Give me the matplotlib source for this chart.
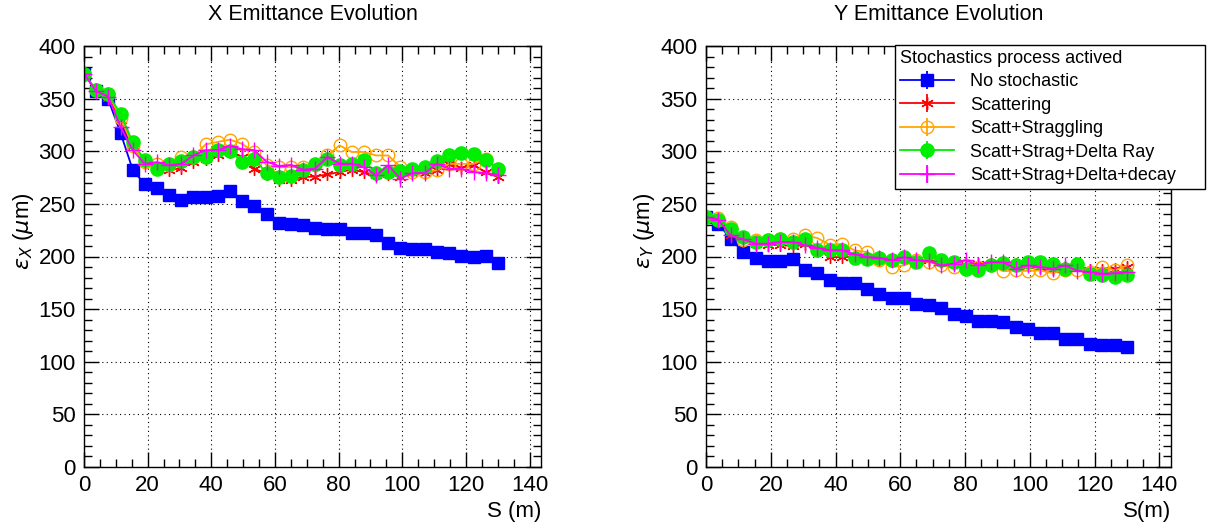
import numpy as np
import matplotlib
matplotlib.use("Agg")
import matplotlib.pyplot as plt
from matplotlib.ticker import MultipleLocator

plt.rcParams['font.family'] = ['Liberation Sans', 'DejaVu Sans']
plt.rcParams['mathtext.fontset'] = 'dejavusans'

# distance along the channel (m)
s_pos = [0, 3.8, 7.6, 11.5, 15.3, 19.1, 22.9, 26.8, 30.6, 34.4, 38.2, 42.1, 45.9, 49.7,
         53.5, 57.4, 61.2, 65.0, 68.8, 72.6, 76.5, 80.3, 84.1, 87.9, 91.8, 95.6, 99.4,
         103.2, 107.1, 110.9, 114.7, 118.5, 122.4, 126.2, 130.0]

# X emittance (um)
x_nostoch = [373.8, 357.2, 349.3, 317.3, 282.5, 268.5, 265.4, 258.4, 254.0, 256.2, 256.8, 257.1,
             261.9, 252.4, 247.6, 240.0, 231.7, 230.8, 230.2, 227.4, 226.4, 226.4, 222.2, 222.0,
             220.0, 212.7, 208.4, 207.4, 207.4, 204.2, 203.2, 200.4, 199.8, 200.4, 194.1]
x_scatt = [373.8, 357.0, 351.0, 330.0, 305.0, 290.0, 284.0, 282.0, 284.0, 290.0, 293.0, 296.0,
           299.0, 295.0, 283.4, 278.7, 273.0, 273.0, 275.5, 276.0, 278.0, 280.2, 282.5, 280.2,
           277.0, 278.7, 275.5, 279.3, 279.3, 281.8, 288.2, 284.4, 286.6, 280.2, 275.5]
x_strag = [373.8, 358.0, 354.0, 332.0, 305.0, 290.0, 288.0, 286.6, 294.5, 295.0, 306.5, 309.0,
           311.0, 307.0, 299.0, 286.6, 285.0, 285.0, 285.0, 286.6, 296.0, 305.6, 299.3, 299.3,
           296.0, 296.0, 285.0, 280.0, 280.0, 282.0, 288.0, 288.0, 288.0, 293.0, 283.4]
x_delta = [373.8, 358.5, 354.0, 335.5, 308.5, 291.5, 283.4, 287.5, 290.7, 294.5, 294.5, 300.9,
           300.5, 290.0, 293.0, 279.0, 275.8, 276.7, 281.8, 288.2, 293.0, 286.6, 288.2, 291.3,
           279.0, 280.2, 281.0, 283.4, 285.0, 290.7, 296.1, 298.3, 297.7, 292.0, 283.4]
x_decay = [373.8, 357.0, 352.0, 323.0, 301.0, 288.0, 289.7, 286.6, 288.0, 296.0, 301.0, 301.0,
           305.0, 302.0, 301.0, 290.0, 286.0, 287.0, 282.5, 283.4, 294.5, 288.2, 288.2, 285.0,
           277.0, 286.6, 274.0, 279.3, 279.3, 288.2, 283.4, 283.4, 280.2, 279.3, 277.5]

# Y emittance (um)
y_nostoch = [237.5, 231.2, 216.9, 204.2, 198.5, 196.0, 196.0, 197.2, 187.4, 184.2, 177.9, 174.4,
             174.4, 169.4, 164.6, 160.8, 160.8, 155.1, 154.2, 151.3, 145.6, 143.1, 138.3, 138.3,
             137.6, 132.9, 131.4, 127.6, 127.6, 121.9, 121.2, 117.1, 116.2, 116.2, 113.9]
y_scatt = [237.5, 235.0, 220.0, 217.5, 212.2, 211.2, 210.8, 209.9, 212.0, 207.4, 199.4, 199.4,
           199.7, 199.4, 200.0, 196.3, 198.5, 197.0, 196.3, 194.7, 193.2, 191.5, 193.2, 193.2,
           195.0, 193.2, 191.5, 190.0, 188.4, 190.0, 191.5, 186.8, 186.8, 188.4, 190.0]
y_strag = [237.5, 237.0, 228.0, 215.3, 215.3, 215.3, 216.9, 216.9, 220.0, 217.5, 211.2, 212.0,
           205.8, 204.2, 197.0, 190.0, 191.5, 196.3, 194.7, 191.5, 190.0, 191.5, 190.0, 191.5,
           186.0, 186.8, 186.3, 186.8, 184.2, 187.5, 186.8, 185.2, 190.0, 186.8, 191.5]
y_delta = [237.5, 235.0, 226.4, 218.5, 213.7, 215.3, 216.3, 213.7, 216.9, 205.8, 205.8, 205.8,
           198.5, 197.9, 198.8, 197.0, 199.4, 194.7, 203.2, 197.0, 194.7, 188.4, 187.5, 191.5,
           193.5, 191.5, 194.7, 194.7, 193.2, 188.4, 193.2, 183.6, 182.0, 180.4, 182.0]
y_decay = [237.5, 235.0, 220.0, 216.3, 212.2, 212.2, 213.7, 213.7, 210.8, 208.3, 205.8, 205.8,
           202.0, 199.4, 198.8, 196.3, 199.4, 196.3, 195.7, 191.5, 193.2, 196.3, 191.5, 194.7,
           194.5, 188.4, 191.5, 190.0, 188.4, 191.5, 186.3, 185.2, 183.6, 184.2, 185.2]

labels = ["No stochastic", "Scattering", "Scatt+Straggling",
          "Scatt+Strag+Delta Ray", "Scatt+Strag+Delta+decay"]
colors = ["#0000ff", "#ff0000", "#ffa500", "#00ee00", "#ff00ff"]
markers = ["s", (6, 2, 0), "o", "o", "+"]
filled = [True, True, False, True, True]
msizes = [8.5, 9, 9, 9.5, 12]

fig = plt.figure(figsize=(12.25, 5.25), dpi=100)
ax1 = fig.add_axes([84 / 1225, 1 - 467 / 525, 457 / 1225, 421 / 525])
ax2 = fig.add_axes([706 / 1225, 1 - 467 / 525, 465 / 1225, 421 / 525])


def draw(ax, series, title, ylabel, xlabel):
    for vals, lab, c, m, f, ms in zip(series, labels, colors, markers, filled, msizes):
        ax.errorbar(s_pos, vals, yerr=np.zeros(len(vals)), color=c, marker=m, ms=ms,
                    mfc=c if f else "none", mec=c, mew=1.0, lw=1.3, elinewidth=1.3,
                    capsize=0, label=lab)
    ax.set_xlim(0, 143.6)
    ax.set_ylim(0, 400)
    ax.xaxis.set_major_locator(MultipleLocator(20))
    ax.xaxis.set_minor_locator(MultipleLocator(5))
    ax.yaxis.set_major_locator(MultipleLocator(50))
    ax.yaxis.set_minor_locator(MultipleLocator(10))
    ax.tick_params(which="both", direction="in", top=True, right=True, labelsize=16,
                   width=1, pad=6)
    ax.tick_params(which="major", length=11)
    ax.tick_params(which="minor", length=6)
    ax.grid(True, which="major", color="black", ls=(0, (1, 3)), lw=0.8)
    ax.set_title(title, fontsize=15.5, pad=19)
    ax.set_xlabel(xlabel, fontsize=16, loc="right")
    ax.xaxis.set_label_coords(1.0, -0.08)
    ax.set_ylabel(ylabel, fontsize=16)
    ax.yaxis.set_label_coords(-0.105, 0.56)
    for sp in ax.spines.values():
        sp.set_linewidth(1.0)


draw(ax1, [x_nostoch, x_scatt, x_strag, x_delta, x_decay],
     "X Emittance Evolution", r"$\epsilon_{X}$ ($\mu$m)", "S (m)")
draw(ax2, [y_nostoch, y_scatt, y_strag, y_delta, y_decay],
     "Y Emittance Evolution", r"$\epsilon_{Y}$ ($\mu$m)", "S(m)")

leg = ax2.legend(loc="upper left",
                 bbox_to_anchor=(895 / 1225, 1 - 188 / 525, 310 / 1225, 143 / 525),
                 bbox_transform=fig.transFigure, mode="expand", fontsize=13,
                 title="Stochastics process actived", title_fontsize=13, alignment="left",
                 frameon=True, fancybox=False, framealpha=1, edgecolor="black",
                 handlelength=3.0, handletextpad=0.9, labelspacing=0.36,
                 borderpad=0.25, borderaxespad=0)
leg.get_frame().set_linewidth(1.0)

fig.savefig("out.png", dpi=100)
